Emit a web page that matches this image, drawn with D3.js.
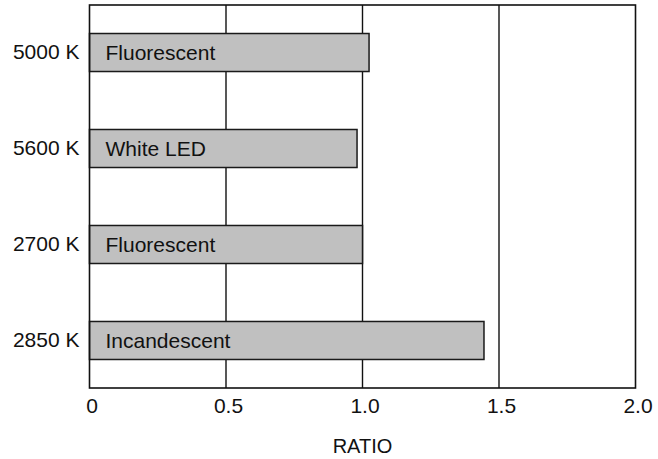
<!DOCTYPE html>
<html>
<head>
<meta charset="utf-8">
<script src="https://cdn.jsdelivr.net/npm/d3@7"></script>
<style>
  body { margin: 0; background: #fff; }
  text { font-family: "Liberation Sans", Arial, Helvetica, sans-serif; fill: #111; }
</style>
</head>
<body>
<div id="chart"></div>
<script>
// data
var temps = ["5000 K", "5600 K", "2700 K", "2850 K"];
var sources = ["Fluorescent", "White LED", "Fluorescent", "Incandescent"];
var ratios = [1.024, 0.98, 1.0, 1.445];
var xTicks = [0, 0.5, 1.0, 1.5, 2.0];
var xTickLabels = ["0", "0.5", "1.0", "1.5", "2.0"];
var xTitle = "RATIO";

var data = temps.map(function (t, i) {
    return { temp: t, source: sources[i], ratio: ratios[i] };
});

var W = 658, H = 459;
var margin = { top: 5, right: 22.5, bottom: 71, left: 89.5 },
    w = W - margin.left - margin.right,
    h = H - margin.top - margin.bottom;

var svg = d3.select('#chart')
    .append('svg')
    .attr('width', W)
    .attr('height', H)
    .append('g')
    .attr("transform", `translate(${margin.left},${margin.top})`);

var xScale = d3.scaleLinear()
    .domain([0, 2])
    .range([0, w]);

var yScale = d3.scaleBand()
    .domain(temps)
    .range([0, h])
    .paddingInner(0.604)
    .paddingOuter(0.297);

// vertical grid lines
svg.append('g').selectAll('line')
    .data(xTicks.slice(1, -1))
    .enter()
    .append('line')
    .attr('x1', function (d) { return xScale(d); })
    .attr('x2', function (d) { return xScale(d); })
    .attr('y1', 0)
    .attr('y2', h)
    .attr('stroke', '#111')
    .attr('stroke-width', 1.4);

// bars
svg.append('g').selectAll('rect')
    .data(data)
    .enter()
    .append('rect')
    .attr('x', xScale(0))
    .attr('y', function (d) { return yScale(d.temp); })
    .attr('width', function (d) { return xScale(d.ratio) - xScale(0); })
    .attr('height', yScale.bandwidth())
    .attr('fill', '#c0c0c0')
    .attr('stroke', '#1a1a1a')
    .attr('stroke-width', 1.5);

// labels inside bars
svg.append('g').selectAll('text')
    .data(data)
    .enter()
    .append('text')
    .attr('x', xScale(0) + 16)
    .attr('y', function (d) { return yScale(d.temp) + yScale.bandwidth() / 2; })
    .attr('dy', '0.35em')
    .style('font-size', '21px')
    .text(function (d) { return d.source; });

// frame
svg.append('rect')
    .attr('width', w)
    .attr('height', h)
    .attr('fill', 'none')
    .attr('stroke', '#111')
    .attr('stroke-width', 1.6);

// axes
var yAxis = d3.axisLeft(yScale).tickSize(0).tickPadding(10);
var xAxis = d3.axisBottom(xScale)
    .tickValues(xTicks)
    .tickFormat(function (d, i) { return xTickLabels[i]; })
    .tickSize(0)
    .tickPadding(10.5);

svg.append('g')
    .attr('class', 'y axis')
    .call(yAxis)
    .call(function (g) { g.select('.domain').remove(); })
    .selectAll('text')
    .style('font-size', '21px')
    .style('font-family', '"Liberation Sans", Arial, sans-serif')
    .attr('fill', '#111');

svg.append('g')
    .attr('class', 'x axis')
    .attr("transform", `translate(0,${h})`)
    .call(xAxis)
    .call(function (g) { g.select('.domain').remove(); })
    .selectAll('text')
    .attr('dx', 2)
    .style('font-size', '21px')
    .style('font-family', '"Liberation Sans", Arial, sans-serif')
    .attr('fill', '#111');

// axis title
svg.append('text')
    .attr('x', w / 2)
    .attr('y', h + 64.5)
    .attr('text-anchor', 'middle')
    .style('font-size', '20px')
    .text(xTitle);
</script>
</body>
</html>
